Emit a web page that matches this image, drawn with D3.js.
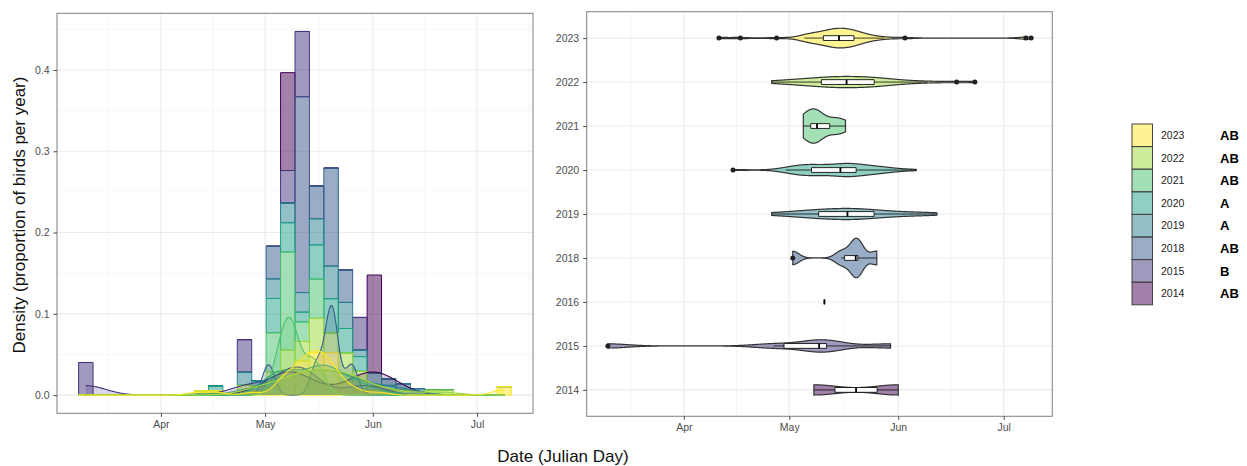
<!DOCTYPE html>
<html>
<head>
<meta charset="utf-8">
<script src="https://cdn.jsdelivr.net/npm/d3@7/dist/d3.min.js"></script>
<style>
  html, body { margin: 0; padding: 0; background: #ffffff; }
  svg text { font-family: "Liberation Sans", Arial, Helvetica, sans-serif; }
</style>
</head>
<body>
<svg id="chart" width="1247" height="466"></svg>
<script>
// Arrival dates (day of year) of tracked birds, one list per season
const days2014 = [128.0, 152.0];
const days2015 = [69.4, 116.5, 128.5, 130.5, 132.0, 149.8];
const days2016 = [131.0];
const days2018 = [122.0, 135.8, 139.5, 140.3, 140.6, 145.9];
const days2019 = [116.0, 116.8, 123.0, 124.0, 124.8, 127.6, 128.2, 128.8, 131.0, 132.0,
                  133.2, 134.3, 135.2, 136.0, 136.8, 138.3, 138.8, 140.0, 141.0, 141.9,
                  142.8, 144.0, 145.5, 146.1, 149.5, 151.5, 153.5, 156.5, 160.5, 163.0];
const days2020 = [105.0, 120.0, 121.8, 122.5, 123.2, 123.8, 124.3, 124.8, 125.2, 126.8,
                  127.5, 128.0, 128.5, 129.0, 129.4, 131.0, 132.5, 134.2, 134.8, 135.3,
                  135.8, 136.3, 136.9, 137.5, 138.0, 138.4, 138.8, 139.2, 139.6, 139.9,
                  140.4, 143.0, 144.0, 144.8, 145.5, 146.0, 147.5, 149.5, 150.2, 157.1];
const days2021 = [125.0, 125.2, 126.8, 128.0, 128.6, 129.2, 129.5, 133.5, 134.5, 137.0];
const days2022 = [116.0, 116.6, 120.5, 122.8, 124.0, 125.0, 126.2, 127.3, 128.3, 129.4,
                  130.4, 131.5, 132.5, 133.4, 134.0, 134.6, 135.2, 135.8, 136.4, 137.0,
                  137.6, 138.6, 139.8, 140.9, 141.8, 142.5, 143.2, 143.9, 144.6, 145.0,
                  145.6, 147.0, 148.5, 150.0, 150.2, 153.5, 156.5, 160.2, 168.6, 173.8];
const days2023 = [101.0, 107.1, 117.4, 125.3, 125.4, 125.9, 126.7, 127.5, 128.2, 128.9,
                  129.5, 130.6, 131.0, 131.4, 131.9, 132.4, 132.9, 133.3, 133.7,
                  134.0, 134.3, 134.6, 135.0, 135.3, 135.6, 136.0, 136.3, 136.6, 137.0,
                  138.0, 138.2, 138.5, 138.8, 139.1, 139.5, 139.9, 140.4, 141.0, 141.8,
                  142.8, 144.0, 145.5, 148.0, 153.9, 188.3, 189.8];

const seasons = ["2014", "2015", "2016", "2018", "2019", "2020", "2021", "2022", "2023"];
const seasonColors = ["#440154", "#46337E", "#3B528B", "#365C8D", "#277F8E",
                      "#1FA187", "#4AC16D", "#9FDA3A", "#FDE725"];
const legendSeasons = ["2023", "2022", "2021", "2020", "2019", "2018", "2015", "2014"];
const legendLetters = ["AB", "AB", "AB", "A", "A", "AB", "B", "AB"];
const monthDays = [91, 121, 152, 182];
const monthNames = ["Apr", "May", "Jun", "Jul"];
const densityBreaks = [0, 0.1, 0.2, 0.3, 0.4];

const daysBySeason = {
  "2014": days2014, "2015": days2015, "2016": days2016, "2018": days2018,
  "2019": days2019, "2020": days2020, "2021": days2021, "2022": days2022, "2023": days2023
};
const colorOf = d3.scaleOrdinal(seasons, seasonColors);

const svg = d3.select("#chart");
const GRID_MAJOR = "#EBEBEB", GRID_MINOR = "#F4F4F4", BORDER = "#8A8A8A", TICK_TXT = "#4D4D4D";

// ---- statistics helpers ----
function sorted(x) { return x.slice().sort(d3.ascending); }
function bwNrd0(x) {
  const s = sorted(x);
  const sd = d3.deviation(s);
  const iqr = d3.quantile(s, 0.75) - d3.quantile(s, 0.25);
  let lo = Math.min(sd, iqr / 1.34);
  if (!(lo > 0)) lo = sd || Math.abs(s[0]) || 1;
  return 0.9 * lo * Math.pow(s.length, -0.2);
}
function kde(x, bw, grid) {
  const c = 1 / (x.length * bw * Math.sqrt(2 * Math.PI));
  return grid.map(t => [t, c * d3.sum(x, v => Math.exp(-0.5 * ((t - v) / bw) ** 2))]);
}
function boxStats(x) {
  const s = sorted(x);
  const q1 = d3.quantile(s, 0.25), med = d3.quantile(s, 0.5), q3 = d3.quantile(s, 0.75);
  const iqr = q3 - q1;
  const loF = q1 - 1.5 * iqr, hiF = q3 + 1.5 * iqr;
  const inside = s.filter(v => v >= loF && v <= hiF);
  return { q1, med, q3, lo: d3.min(inside), hi: d3.max(inside),
           out: s.filter(v => v < loF || v > hiF) };
}

// ---- shared binning over the pooled dates (30 bins) ----
const allDays = seasons.flatMap(s => daysBySeason[s]);
const [dMin, dMax] = d3.extent(allDays);
const nBins = 30;
const binW = (dMax - dMin) / (nBins - 1);
const binX0 = dMin - binW / 2;
const binStarts = d3.range(nBins).map(k => binX0 + k * binW);

const histRows = binStarts.map((start, k) => {
  const row = { k, start };
  seasons.forEach(s => {
    const d = daysBySeason[s];
    const c = d.filter(v => Math.min(nBins - 1, Math.floor((v - binX0) / binW)) === k).length;
    row[s] = c / (d.length * binW);
  });
  return row;
});
const stackKeys = seasons.slice().reverse(); // latest season at the bottom of each bar
const stacked = d3.stack().keys(stackKeys)(histRows);
const seriesOf = Object.fromEntries(stacked.map(s => [s.key, s]));

// ---- panel geometry ----
const P1 = { l: 57, r: 533, t: 13.3, b: 413.3 };
const P2 = { l: 586.7, r: 1052.3, t: 11.7, b: 416.3 };

const histSpan = nBins * binW;
const xL = d3.scaleLinear()
  .domain([binX0 - 0.05 * histSpan, binX0 + histSpan + 0.05 * histSpan])
  .range([P1.l, P1.r]);
const yTop = d3.max(stacked[stacked.length - 1], d => d[1]);
const yL = d3.scaleLinear().domain([-0.05 * yTop, 1.05 * yTop]).range([P1.b, P1.t]);

const dSpan = dMax - dMin;
const xR = d3.scaleLinear().domain([dMin - 0.05 * dSpan, dMax + 0.05 * dSpan]).range([P2.l, P2.r]);
const step = (P2.b - P2.t) / (seasons.length - 1 + 1.2);
const yR = d3.scalePoint().domain(seasons)
  .range([P2.b - 0.6 * step, P2.t + 0.6 * step]);

const defs = svg.append("defs");
defs.append("clipPath").attr("id", "clipL").append("rect")
  .attr("x", P1.l).attr("y", P1.t).attr("width", P1.r - P1.l).attr("height", P1.b - P1.t);
defs.append("clipPath").attr("id", "clipR").append("rect")
  .attr("x", P2.l).attr("y", P2.t).attr("width", P2.r - P2.l).attr("height", P2.b - P2.t);

function minorBreaks(major, domain) {
  const out = [];
  const half = (major[1] - major[0]) / 2;
  out.push(major[0] - half);
  for (let i = 0; i < major.length - 1; i++) out.push((major[i] + major[i + 1]) / 2);
  out.push(major[major.length - 1] + (major[major.length - 1] - major[major.length - 2]) / 2);
  return out.filter(v => v > domain[0] && v < domain[1]);
}

function drawVGrid(g, x, P) {
  minorBreaks(monthDays, x.domain()).forEach(v => {
    g.append("line").attr("x1", x(v)).attr("x2", x(v)).attr("y1", P.t).attr("y2", P.b)
      .attr("stroke", GRID_MINOR).attr("stroke-width", 0.8);
  });
  monthDays.forEach(v => {
    g.append("line").attr("x1", x(v)).attr("x2", x(v)).attr("y1", P.t).attr("y2", P.b)
      .attr("stroke", GRID_MAJOR).attr("stroke-width", 1.1);
  });
}

function drawXAxis(x, P) {
  const g = svg.append("g").attr("transform", `translate(0,${P.b})`);
  const ax = d3.axisBottom(x).tickValues(monthDays)
    .tickFormat((d, i) => monthNames[i]).tickSize(3.5).tickPadding(4);
  g.call(ax);
  g.select(".domain").remove();
  g.selectAll(".tick line").attr("stroke", "#333333").attr("stroke-width", 0.9);
  g.selectAll(".tick text").attr("fill", TICK_TXT).attr("font-size", "10.5px")
    .style("font-family", "'Liberation Sans', Arial, sans-serif");
}

// ===== Left panel: stacked density histogram with density curves =====
const gL = svg.append("g");
gL.append("rect").attr("x", P1.l).attr("y", P1.t).attr("width", P1.r - P1.l)
  .attr("height", P1.b - P1.t).attr("fill", "#ffffff");
drawVGrid(gL, xL, P1);
const yMinor = [0.05, 0.15, 0.25, 0.35, 0.45].filter(v => v < yL.domain()[1]);
yMinor.forEach(v => gL.append("line").attr("x1", P1.l).attr("x2", P1.r)
  .attr("y1", yL(v)).attr("y2", yL(v)).attr("stroke", GRID_MINOR).attr("stroke-width", 0.8));
densityBreaks.forEach(v => gL.append("line").attr("x1", P1.l).attr("x2", P1.r)
  .attr("y1", yL(v)).attr("y2", yL(v)).attr("stroke", GRID_MAJOR).attr("stroke-width", 1.1));

const dataL = gL.append("g").attr("clip-path", "url(#clipL)");

// histogram segments (drawn earliest season first, so the latest outlines sit on top)
seasons.forEach(s => {
  const col = colorOf(s);
  dataL.append("g").selectAll("path").data(seriesOf[s]).join("path")
    .attr("d", (d, i) => {
      const x1 = xL(binStarts[i]), x2 = xL(binStarts[i] + binW);
      const y0 = yL(d[0]), y1 = yL(d[1]);
      return `M${x1},${y0}H${x2}V${y1}H${x1}Z`;
    })
    .attr("fill", col).attr("fill-opacity", 0.5)
    .attr("stroke", col).attr("stroke-width", 1);
});

// kernel density curves over the full date range
const curveGrid = d3.range(512).map(i => dMin + i * dSpan / 511);
seasons.forEach(s => {
  const d = daysBySeason[s];
  if (d.length < 2) return;
  const dens = kde(d, bwNrd0(d), curveGrid);
  const col = colorOf(s);
  dataL.append("path").datum(dens)
    .attr("d", d3.area().x(p => xL(p[0])).y0(yL(0)).y1(p => yL(p[1])))
    .attr("fill", col).attr("fill-opacity", 0.2).attr("stroke", "none");
  dataL.append("path").datum(dens)
    .attr("d", d3.line().x(p => xL(p[0])).y(p => yL(p[1])))
    .attr("fill", "none").attr("stroke", col).attr("stroke-width", 1.1);
});

gL.append("rect").attr("x", P1.l).attr("y", P1.t).attr("width", P1.r - P1.l)
  .attr("height", P1.b - P1.t).attr("fill", "none").attr("stroke", BORDER).attr("stroke-width", 1.1);

{
  const g = svg.append("g").attr("transform", `translate(${P1.l},0)`);
  g.call(d3.axisLeft(yL).tickValues(densityBreaks).tickFormat(d3.format(".1f"))
    .tickSize(3.5).tickPadding(4));
  g.select(".domain").remove();
  g.selectAll(".tick line").attr("stroke", "#333333").attr("stroke-width", 0.9);
  g.selectAll(".tick text").attr("fill", TICK_TXT).attr("font-size", "10.5px")
    .style("font-family", "'Liberation Sans', Arial, sans-serif");
}
drawXAxis(xL, P1);

// ===== Right panel: violins with box plots by season =====
const gR = svg.append("g");
gR.append("rect").attr("x", P2.l).attr("y", P2.t).attr("width", P2.r - P2.l)
  .attr("height", P2.b - P2.t).attr("fill", "#ffffff");
drawVGrid(gR, xR, P2);
seasons.forEach(s => gR.append("line").attr("x1", P2.l).attr("x2", P2.r)
  .attr("y1", yR(s)).attr("y2", yR(s)).attr("stroke", GRID_MAJOR).attr("stroke-width", 1.1));

const dataR = gR.append("g").attr("clip-path", "url(#clipR)");

const violins = seasons.map(s => {
  const d = daysBySeason[s];
  if (d.length < 2) return { s, dens: null };
  const [a, b] = d3.extent(d);
  const grid = d3.range(512).map(i => a + i * (b - a) / 511);
  return { s, dens: kde(d, bwNrd0(d), grid) };
});
const maxDens = d3.max(violins.filter(v => v.dens), v => d3.max(v.dens, p => p[1]));
const halfMax = 0.45 * step;

violins.forEach(v => {
  if (!v.dens) return;
  const yc = yR(v.s);
  const w = p => p[1] / maxDens * halfMax;
  const upper = v.dens.map(p => [xR(p[0]), yc - w(p)]);
  const lower = v.dens.slice().reverse().map(p => [xR(p[0]), yc + w(p)]);
  dataR.append("path")
    .attr("d", d3.line()(upper.concat(lower)) + "Z")
    .attr("fill", colorOf(v.s)).attr("fill-opacity", 0.5)
    .attr("stroke", "#333333").attr("stroke-width", 1.2);
});

const boxHalf = 2.4;
seasons.forEach(s => {
  const b = boxStats(daysBySeason[s]);
  const yc = yR(s);
  const g = dataR.append("g");
  g.append("line").attr("x1", xR(b.lo)).attr("x2", xR(b.q1)).attr("y1", yc).attr("y2", yc)
    .attr("stroke", "#111111").attr("stroke-width", 0.8);
  g.append("line").attr("x1", xR(b.q3)).attr("x2", xR(b.hi)).attr("y1", yc).attr("y2", yc)
    .attr("stroke", "#111111").attr("stroke-width", 0.8);
  const bx1 = xR(b.q1), bx2 = xR(b.q3);
  g.append("path").attr("d", `M${bx1},${yc - boxHalf}H${bx2}V${yc + boxHalf}H${bx1}Z`)
    .attr("fill", "#ffffff").attr("stroke", "#111111").attr("stroke-width", 0.9);
  g.append("line").attr("x1", xR(b.med)).attr("x2", xR(b.med))
    .attr("y1", yc - boxHalf).attr("y2", yc + boxHalf)
    .attr("stroke", "#000000").attr("stroke-width", 1.8);
  g.selectAll("circle").data(b.out).join("circle")
    .attr("cx", v => xR(v)).attr("cy", yc).attr("r", 2.5).attr("fill", "#222222");
});

gR.append("rect").attr("x", P2.l).attr("y", P2.t).attr("width", P2.r - P2.l)
  .attr("height", P2.b - P2.t).attr("fill", "none").attr("stroke", BORDER).attr("stroke-width", 1.1);

{
  const g = svg.append("g").attr("transform", `translate(${P2.l},0)`);
  g.call(d3.axisLeft(yR).tickSize(3.5).tickPadding(4));
  g.select(".domain").remove();
  g.selectAll(".tick line").attr("stroke", "#333333").attr("stroke-width", 0.9);
  g.selectAll(".tick text").attr("fill", TICK_TXT).attr("font-size", "10.5px")
    .style("font-family", "'Liberation Sans', Arial, sans-serif");
}
drawXAxis(xR, P2);

// ===== Axis titles =====
svg.append("text").attr("x", 563).attr("y", 462).attr("text-anchor", "middle")
  .attr("font-size", "17px").attr("fill", "#111111").text("Date (Julian Day)");
svg.append("text").attr("transform", "translate(25,215) rotate(-90)")
  .attr("text-anchor", "middle").attr("font-size", "17px").attr("fill", "#111111")
  .text("Density (proportion of birds per year)");

// ===== Legend with group letters =====
const lg = svg.append("g");
const keyH = 22.6, keyW = 20.5, keyX = 1132, keyY = 124;
legendSeasons.forEach((s, i) => {
  const y = keyY + i * keyH;
  lg.append("rect").attr("x", keyX).attr("y", y).attr("width", keyW).attr("height", keyH)
    .attr("fill", colorOf(s)).attr("fill-opacity", 0.5)
    .attr("stroke", "#444444").attr("stroke-width", 1);
  lg.append("text").attr("x", 1161).attr("y", y + keyH / 2).attr("dy", "0.36em")
    .attr("font-size", "10.5px").attr("fill", "#222222").text(s);
  lg.append("text").attr("x", 1220).attr("y", y + keyH / 2).attr("dy", "0.36em")
    .attr("font-size", "13px").attr("font-weight", "bold").attr("fill", "#000000")
    .text(legendLetters[i]);
});
</script>
</body>
</html>
